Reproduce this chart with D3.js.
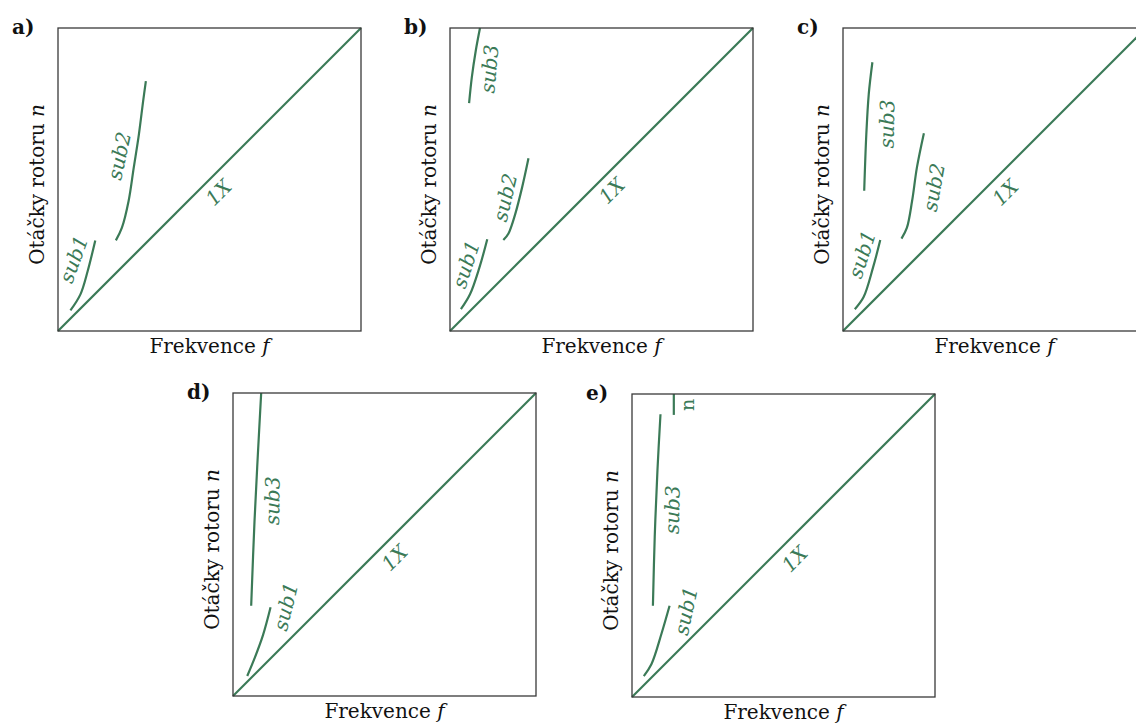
<!DOCTYPE html>
<html>
<head>
<meta charset="utf-8">
<script src="https://cdn.jsdelivr.net/npm/d3@7"></script>
<style>
  html, body { margin: 0; padding: 0; background: #fff; }
  svg { display: block; }
</style>
</head>
<body>
<svg id="chart" width="1136" height="724"></svg>
<script>
// ---- data (normalized frequency f, rotor speed n) ----
const panelNames = ["a)", "b)", "c)", "d)", "e)"];
const line1X = [[0, 0], [1, 1]];

const a_sub1 = [[0.041, 0.068], [0.074, 0.121], [0.098, 0.198], [0.123, 0.299]];
const a_sub2 = [[0.191, 0.299], [0.211, 0.341], [0.233, 0.429], [0.250, 0.539], [0.267, 0.649], [0.281, 0.759], [0.290, 0.825]];

const b_sub1 = [[0.036, 0.072], [0.066, 0.121], [0.097, 0.209], [0.123, 0.303]];
const b_sub2 = [[0.176, 0.300], [0.193, 0.322], [0.215, 0.385], [0.238, 0.474], [0.259, 0.570]];
const b_sub3 = [[0.063, 0.752], [0.072, 0.837], [0.085, 0.925], [0.099, 1.0]];

const c_sub1 = [[0.039, 0.072], [0.068, 0.112], [0.099, 0.209], [0.123, 0.300]];
const c_sub2 = [[0.193, 0.305], [0.211, 0.341], [0.228, 0.429], [0.244, 0.540], [0.267, 0.653]];
const c_sub3 = [[0.070, 0.463], [0.077, 0.650], [0.085, 0.782], [0.097, 0.887]];

const d_sub1 = [[0.047, 0.066], [0.071, 0.124], [0.099, 0.201], [0.124, 0.293]];
const d_sub3 = [[0.060, 0.298], [0.071, 0.577], [0.082, 0.796], [0.093, 1.0]];

const e_sub1 = [[0.039, 0.069], [0.064, 0.108], [0.097, 0.208], [0.124, 0.301]];
const e_sub3 = [[0.069, 0.301], [0.075, 0.528], [0.084, 0.748], [0.094, 0.933]];
const e_n = [[0.138, 0.931], [0.138, 1.0]];

// curve labels: [text, f, n, angle]
const a_labels = [["sub1", 0.052, 0.237, -70], ["sub2", 0.202, 0.578, -78], ["1X", 0.530, 0.457, -45]];
const b_labels = [["sub1", 0.053, 0.220, -72], ["sub2", 0.182, 0.441, -77], ["sub3", 0.130, 0.865, -85], ["1X", 0.534, 0.463, -45]];
const c_labels = [["sub1", 0.063, 0.253, -72], ["sub2", 0.300, 0.474, -80], ["sub3", 0.145, 0.683, -89], ["1X", 0.536, 0.457, -45]];
const d_labels = [["sub1", 0.174, 0.295, -76], ["sub3", 0.130, 0.644, -89], ["1X", 0.533, 0.456, -45]];
const e_labels = [["sub1", 0.178, 0.284, -78], ["sub3", 0.133, 0.618, -89], ["1X", 0.537, 0.455, -45]];
const e_small = [["n", 0.181, 0.964, -90]];

const xTitle = "Frekvence ";
const xTitleVar = "f";
const yTitle = "Otáčky rotoru ";
const yTitleVar = "n";

// ---- layout ----
const S = 303;
const layout = [
  { name: panelNames[0], x: 58,  y: 28,  curves: [line1X, a_sub1, a_sub2], labels: a_labels, small: [] },
  { name: panelNames[1], x: 450, y: 28,  curves: [line1X, b_sub1, b_sub2, b_sub3], labels: b_labels, small: [] },
  { name: panelNames[2], x: 843, y: 28,  curves: [line1X, c_sub1, c_sub2, c_sub3], labels: c_labels, small: [] },
  { name: panelNames[3], x: 233, y: 393, curves: [line1X, d_sub1, d_sub3], labels: d_labels, small: [] },
  { name: panelNames[4], x: 632, y: 394, curves: [line1X, e_sub1, e_sub3, e_n], labels: e_labels, small: e_small }
];

const green = "#3b7a57";
const font = "'DejaVu Serif', serif";
const svg = d3.select("#chart");

const xs = d3.scaleLinear().domain([0, 1]).range([0, S]);
const ys = d3.scaleLinear().domain([0, 1]).range([S, 0]);
const lineGen = d3.line().x(d => xs(d[0])).y(d => ys(d[1])).curve(d3.curveCatmullRom.alpha(0.5));

layout.forEach(p => {
  const g = svg.append("g").attr("transform", `translate(${p.x},${p.y})`);

  p.curves.forEach(c => {
    g.append("path").attr("d", lineGen(c))
      .attr("fill", "none").attr("stroke", green)
      .attr("stroke-width", 2.2).attr("stroke-linecap", "butt");
  });

  g.append("rect").attr("x", 0).attr("y", 0).attr("width", S).attr("height", S)
    .attr("fill", "none").attr("stroke", "#3a3a3a").attr("stroke-width", 1.3);

  p.labels.forEach(l => {
    g.append("text")
      .attr("transform", `translate(${xs(l[1])},${ys(l[2])}) rotate(${l[3]})`)
      .attr("text-anchor", "middle").attr("dominant-baseline", "central")
      .attr("font-family", font).attr("font-style", "italic")
      .attr("font-size", 20).attr("fill", green).text(l[0]);
  });
  p.small.forEach(l => {
    g.append("text")
      .attr("transform", `translate(${xs(l[1])},${ys(l[2])}) rotate(${l[3]})`)
      .attr("text-anchor", "middle").attr("dominant-baseline", "central")
      .attr("font-family", font).attr("font-size", 19).attr("fill", green).text(l[0]);
  });

  // panel letter
  g.append("text").attr("x", -46).attr("y", 6)
    .attr("font-family", font).attr("font-weight", "bold")
    .attr("font-size", 20).attr("fill", "#111").text(p.name);

  // x title
  const xt = g.append("text").attr("x", S / 2).attr("y", S + 22)
    .attr("text-anchor", "middle").attr("font-family", font)
    .attr("font-size", 20).attr("fill", "#111");
  xt.append("tspan").text(xTitle);
  xt.append("tspan").attr("font-style", "italic").text(xTitleVar);

  // y title
  const yt = g.append("text")
    .attr("transform", `translate(-14,${S / 2 + 5}) rotate(-90)`)
    .attr("text-anchor", "middle").attr("font-family", font)
    .attr("font-size", 20).attr("fill", "#111");
  yt.append("tspan").text(yTitle);
  yt.append("tspan").attr("font-style", "italic").text(yTitleVar);
});
</script>
</body>
</html>
